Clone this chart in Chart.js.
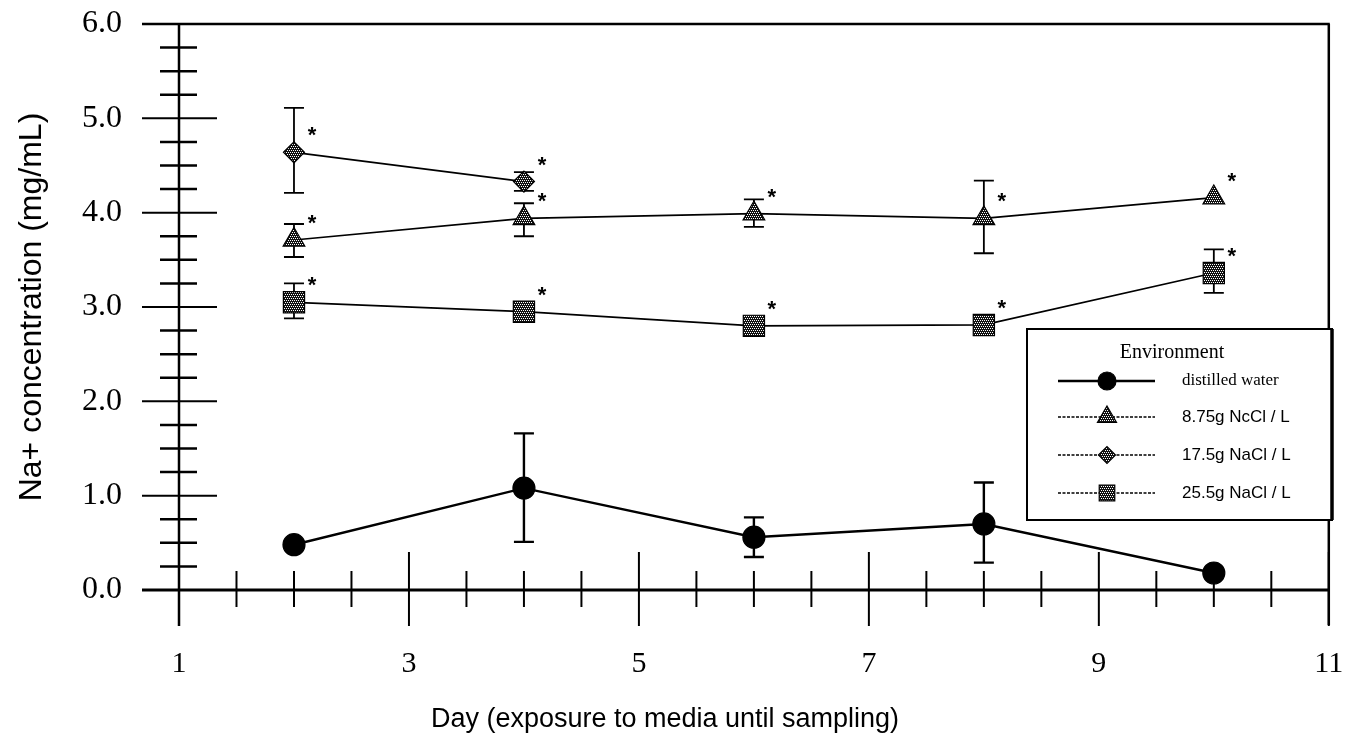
<!DOCTYPE html>
<html lang="en">
<head>
  <meta charset="UTF-8">
  <title>Na+ concentration</title>
  <script src="https://cdn.jsdelivr.net/npm/chart.js"></script>
  <style>
    body {
      margin: 0;
      background: #fff;
    }
    #wrap {
      width: 1345px;
      height: 755px;
    }
  </style>
</head>
<body>
  <div id="wrap">
    <canvas id="chart" width="1345" height="755"></canvas>
  </div>
  <script>
    // data
    const days = [2, 4, 6, 8, 10];

    const waterVals = [0.48, 1.08, 0.56, 0.70, 0.18];
    const waterLow = [null, 0.51, 0.35, 0.29, null];
    const waterHigh = [null, 1.66, 0.77, 1.14, null];

    const nacl875Vals = [3.71, 3.94, 3.99, 3.94, 4.16];
    const nacl875Low = [3.53, 3.75, 3.85, 3.57, null];
    const nacl875High = [3.88, 4.10, 4.14, 4.34, null];

    const nacl175Days = [2, 4];
    const nacl175Vals = [4.64, 4.33];
    const nacl175Low = [4.21, 4.23];
    const nacl175High = [5.11, 4.43];

    const nacl255Vals = [3.05, 2.95, 2.80, 2.81, 3.36];
    const nacl255Low = [2.88, null, null, null, 3.15];
    const nacl255High = [3.25, null, null, null, 3.61];

    const seriesLabels = ['distilled water', '8.75g NcCl / L', '17.5g NaCl / L', '25.5g NaCl / L'];
    const xTickVals = [1, 3, 5, 7, 9, 11];
    const legendTitle = 'Environment';
    const xTitle = 'Day (exposure to media until sampling)';
    const yTitle = 'Na+ concentration (mg/mL)';

    // dotted fill like the scanned markers
    function makePattern() {
      const c = document.createElement('canvas');
      c.width = 4; c.height = 4;
      const g = c.getContext('2d');
      g.fillStyle = '#111';
      g.fillRect(0, 0, 4, 4);
      g.fillStyle = '#fff';
      g.fillRect(0, 0, 1, 1);
      g.fillRect(2, 0, 1, 1);
      g.fillRect(1, 2, 1, 1);
      g.fillRect(3, 2, 1, 1);
      return g.createPattern(c, 'repeat');
    }
    const dots = makePattern();

    function series(label, xs, ys, low, high, style, radius, lineW, fill, star) {
      return {
        label,
        data: xs.map((x, i) => ({ x, y: ys[i] })),
        errLow: low,
        errHigh: high,
        star,
        borderColor: '#000',
        borderWidth: lineW,
        backgroundColor: fill,
        pointStyle: style,
        pointRadius: radius,
        pointHoverRadius: radius,
        pointBackgroundColor: fill,
        pointBorderColor: '#000',
        pointBorderWidth: 1.2,
        tension: 0,
        fill: false
      };
    }

    const datasets = [
      series(seriesLabels[0], days, waterVals, waterLow, waterHigh, 'circle', 11, 2.4, '#000', false),
      series(seriesLabels[1], days, nacl875Vals, nacl875Low, nacl875High, 'triangle', 12.5, 1.7, dots, true),
      series(seriesLabels[2], nacl175Days, nacl175Vals, nacl175Low, nacl175High, 'rectRot', 10.5, 1.7, dots, true),
      series(seriesLabels[3], days, nacl255Vals, nacl255Low, nacl255High, 'rect', 15, 1.7, dots, true)
    ];

    function noPad(scale) {
      scale.paddingLeft = 0;
      scale.paddingRight = 0;
      scale.paddingTop = 0;
      scale.paddingBottom = 0;
    }

    // axis lines with crossing ticks, error bars
    const framePlugin = {
      id: 'frame',
      beforeDatasetsDraw(chart) {
        const ctx = chart.ctx;
        const xs = chart.scales.x, ys = chart.scales.y;
        const x0 = xs.getPixelForValue(1), x1 = xs.getPixelForValue(11);
        const y0 = ys.getPixelForValue(0), y1 = ys.getPixelForValue(6);
        ctx.save();
        ctx.strokeStyle = '#000';
        ctx.lineCap = 'butt';

        ctx.lineWidth = 2.5;
        ctx.beginPath();
        ctx.moveTo(x0 - 37, y1); ctx.lineTo(x1 + 1, y1);
        ctx.moveTo(x1, y1); ctx.lineTo(x1, y0 + 35);
        ctx.moveTo(x0, y1); ctx.lineTo(x0, y0 + 36);
        ctx.stroke();
        ctx.lineWidth = 3;
        ctx.beginPath();
        ctx.moveTo(x0 - 37, y0); ctx.lineTo(x1 + 1, y0);
        ctx.stroke();

        // y ticks every 0.25
        for (let i = 0; i <= 24; i++) {
          const v = i / 4;
          const py = ys.getPixelForValue(v);
          const major = i % 4 === 0;
          ctx.lineWidth = major ? 2 : 2.5;
          ctx.beginPath();
          if (major) { ctx.moveTo(x0 - 37, py); ctx.lineTo(x0 + 38, py); }
          else { ctx.moveTo(x0 - 19, py); ctx.lineTo(x0 + 18, py); }
          ctx.stroke();
        }
        // x ticks every 0.5
        for (let i = 2; i <= 22; i++) {
          const v = i / 2;
          const px = xs.getPixelForValue(v);
          const major = xTickVals.includes(v);
          ctx.lineWidth = 2;
          ctx.beginPath();
          if (major) { ctx.moveTo(px, y0 - 38); ctx.lineTo(px, y0 + 36); }
          else { ctx.moveTo(px, y0 - 19); ctx.lineTo(px, y0 + 17); }
          ctx.stroke();
        }

        // error bars
        chart.data.datasets.forEach((ds, di) => {
          ctx.lineWidth = di === 0 ? 2.4 : 1.8;
          ds.data.forEach((p, i) => {
            const lo = ds.errLow[i], hi = ds.errHigh[i];
            if (lo == null || hi == null) return;
            const px = xs.getPixelForValue(p.x);
            const pl = ys.getPixelForValue(lo), ph = ys.getPixelForValue(hi);
            ctx.beginPath();
            ctx.moveTo(px, pl); ctx.lineTo(px, ph);
            ctx.moveTo(px - 10, pl); ctx.lineTo(px + 10, pl);
            ctx.moveTo(px - 10, ph); ctx.lineTo(px + 10, ph);
            ctx.stroke();
          });
        });
        ctx.restore();
      },
      afterDraw(chart) {
        const ctx = chart.ctx;
        const xs = chart.scales.x, ys = chart.scales.y;
        ctx.save();
        // significance stars
        ctx.fillStyle = '#000';
        ctx.font = 'bold 22px "Liberation Sans"';
        ctx.textAlign = 'center';
        ctx.textBaseline = 'alphabetic';
        chart.data.datasets.forEach(ds => {
          if (!ds.star) return;
          ds.data.forEach(p => {
            const px = xs.getPixelForValue(p.x), py = ys.getPixelForValue(p.y);
            ctx.fillText('*', px + 18, py - 10);
          });
        });

        // legend box
        const bx = 1027, by = 329, bw = 305, bh = 191;
        ctx.fillStyle = '#fff';
        ctx.fillRect(bx, by, bw, bh);
        ctx.strokeStyle = '#000';
        ctx.lineWidth = 2;
        ctx.strokeRect(bx, by, bw, bh);
        ctx.lineWidth = 3.5;
        ctx.beginPath();
        ctx.moveTo(bx + bw, by); ctx.lineTo(bx + bw, by + bh);
        ctx.stroke();

        ctx.fillStyle = '#000';
        ctx.textAlign = 'center';
        ctx.textBaseline = 'middle';
        ctx.font = '20px "Liberation Serif"';
        ctx.fillText(legendTitle, 1172, 353);

        const rows = [381, 417, 455, 493];
        const sizes = [9, 11, 8.5, 11];
        chart.data.datasets.forEach((ds, i) => {
          const ry = rows[i];
          ctx.strokeStyle = '#000';
          ctx.lineWidth = i === 0 ? 2.4 : 1.6;
          ctx.setLineDash(i === 0 ? [] : [3, 1.5]);
          ctx.beginPath();
          ctx.moveTo(1058, ry); ctx.lineTo(1155, ry);
          ctx.stroke();
          ctx.setLineDash([]);
          ctx.fillStyle = ds.pointBackgroundColor;
          ctx.lineWidth = 1.2;
          Chart.helpers.drawPoint(ctx, { pointStyle: ds.pointStyle, radius: sizes[i], rotation: 0, borderWidth: 1.2 }, 1107, ry);
          ctx.fillStyle = '#000';
          ctx.textAlign = 'left';
          ctx.font = i === 0 ? '17px "Liberation Serif"' : '17px "Liberation Sans"';
          ctx.fillText(ds.label, 1182, ry);
        });
        ctx.restore();
      }
    };

    new Chart(document.getElementById('chart'), {
      type: 'line',
      data: { datasets },
      options: {
        responsive: false,
        animation: false,
        events: [],
        layout: { padding: { top: 24, right: 15, left: 0, bottom: 0 } },
        plugins: {
          legend: { display: false },
          tooltip: { enabled: false },
          title: {
            display: true,
            position: 'bottom',
            text: xTitle,
            color: '#000',
            font: { family: 'Liberation Sans', size: 27, weight: 'normal' },
            padding: { top: 0, bottom: 19 }
          }
        },
        scales: {
          x: {
            type: 'linear',
            min: 1,
            max: 11,
            grid: { display: false, drawTicks: false },
            border: { display: false },
            afterBuildTicks(scale) {
              scale.ticks = xTickVals.map(v => ({ value: v }));
            },
            afterFit(scale) { scale.height = 113.6; noPad(scale); },
            ticks: {
              color: '#000',
              padding: 56,
              maxRotation: 0,
              font: { family: 'Liberation Serif', size: 30 }
            }
          },
          y: {
            type: 'linear',
            min: 0,
            max: 6,
            grid: { display: false, drawTicks: false },
            border: { display: false },
            afterFit(scale) { scale.width = 179; noPad(scale); },
            ticks: {
              stepSize: 1,
              color: '#000',
              padding: 57,
              font: { family: 'Liberation Serif', size: 32 },
              callback: v => v.toFixed(1)
            },
            title: {
              display: true,
              text: yTitle,
              color: '#000',
              font: { family: 'Liberation Sans', size: 32 },
              padding: { top: 13, bottom: 0 }
            }
          }
        }
      },
      plugins: [framePlugin]
    });
  </script>
</body>
</html>
